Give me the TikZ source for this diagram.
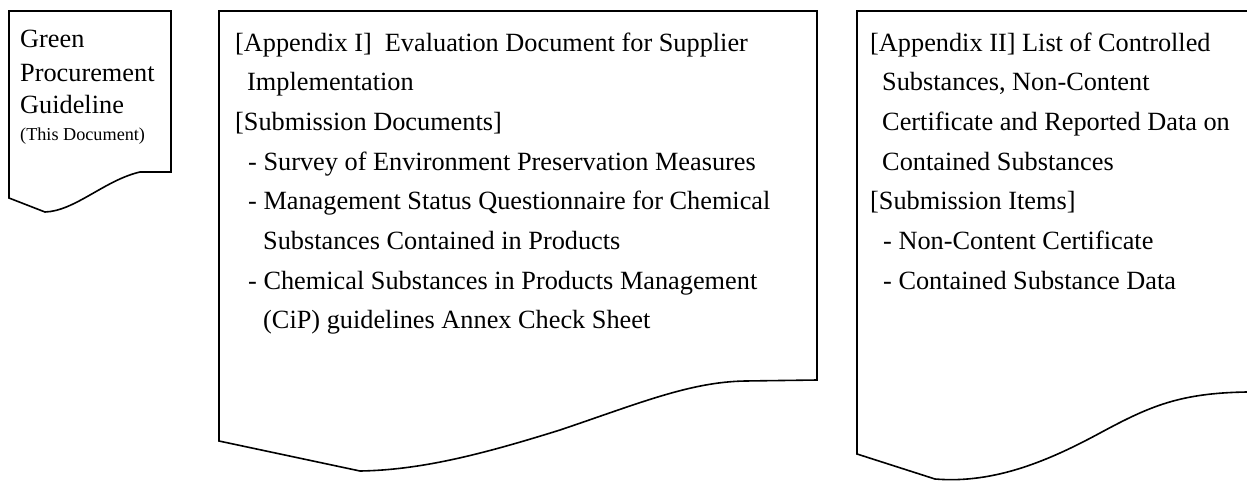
\documentclass[tikz,border=0pt]{standalone}
\usepackage{fontspec}
\setmainfont{Liberation Serif}
\usepackage{tikz}
\definecolor{ink}{HTML}{000000}
\definecolor{paper}{HTML}{FFFFFF}
\tikzset{
  doc/.style={draw=ink, line width=1.6pt, line join=miter},
  lab/.style={text=ink, inner sep=0pt, anchor=base west, font=\fontsize{26.3}{30}\selectfont},
  labs/.style={lab, font=\fontsize{18.2}{22}\selectfont},
}

\begin{document}
\begin{tikzpicture}[x=1pt, y=-1pt]
  \useasboundingbox[fill=paper] (0,0) rectangle (1247,480);
  \clip (0,0) rectangle (1247,480);
  % guideline sheet
  \draw[doc] (9,198) -- (9,11) -- (171,11) -- (171,172) -- (140,172)
    .. controls (105,180) and (75,211) .. (45,212) -- cycle;
  \node[lab] (g1) at (20,47) {Green};
  \node[lab] (g2) at (20,81) {Procurement};
  \node[lab] (g3) at (20,113) {Guideline};
  \node[labs] (g4) at (20,140) {(This Document)};
  % appendix I sheet
  \draw[doc] (219,441) -- (219,11) -- (817,11) -- (817,380) -- (745,381)
    .. controls (690,382) and (640,403) .. (560,430)
    .. controls (480,455) and (420,470) .. (360,471) -- cycle;
  \node[lab] (a1) at (235,51) {[Appendix I]\ \ Evaluation Document for Supplier};
  \node[lab] (a2) at (247,90.7) {Implementation};
  \node[lab] (a3) at (235,130.4) {[Submission Documents]};
  \node[lab] (a4) at (248,170.1) {- Survey of Environment Preservation Measures};
  \node[lab] (a5) at (248,209.8) {- Management Status Questionnaire for Chemical};
  \node[lab] (a6) at (263,249.5) {Substances Contained in Products};
  \node[lab] (a7) at (248,289.2) {- Chemical Substances in Products Management};
  \node[lab] (a8) at (263,328.9) {(CiP) guidelines Annex Check Sheet};
  % appendix II sheet (runs past the right edge)
  \draw[doc] (857,454) -- (857,11) -- (1300,11) -- (1300,391) -- (1247,392)
    .. controls (1180,393) and (1150,406) .. (1100,433)
    .. controls (1050,460) and (995,484) .. (935,479) -- cycle;
  \node[lab] (b1) at (870,51) {[Appendix II] List of Controlled};
  \node[lab] (b2) at (882,90.7) {Substances, Non-Content};
  \node[lab] (b3) at (882,130.4) {Certificate and Reported Data on};
  \node[lab] (b4) at (882,170.1) {Contained Substances};
  \node[lab] (b5) at (870,209.8) {[Submission Items]};
  \node[lab] (b6) at (883,249.5) {- Non-Content Certificate};
  \node[lab] (b7) at (883,289.2) {- Contained Substance Data};
\end{tikzpicture}
\end{document}
